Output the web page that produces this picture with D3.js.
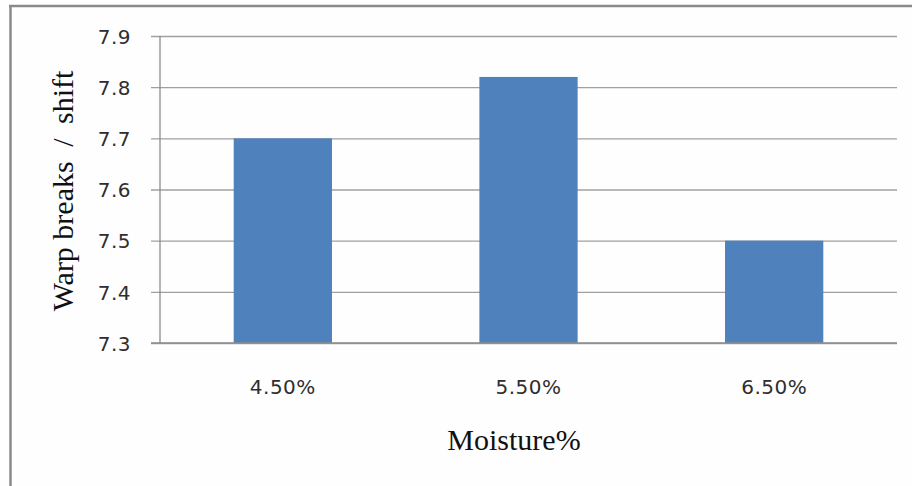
<!DOCTYPE html>
<html>
<head>
<meta charset="utf-8">
<script src="https://cdn.jsdelivr.net/npm/d3@7"></script>
<style>
  html, body { margin: 0; padding: 0; background: #fff; }
  svg { display: block; }
</style>
</head>
<body>
<script>
// Warp breaks per shift at three moisture levels
const categories = ["4.50%", "5.50%", "6.50%"];
const warpBreaks = [7.70, 7.82, 7.50];
const yTicks = [7.3, 7.4, 7.5, 7.6, 7.7, 7.8, 7.9];

const W = 912, H = 486;
const plot = { left: 160, right: 897, top: 36, bottom: 343 };

const svg = d3.select("body").append("svg")
  .attr("width", W).attr("height", H);

svg.append("rect").attr("width", W).attr("height", H).attr("fill", "#fefefe");

// Chart frame (top and left edges)
svg.append("line").attr("x1", 9).attr("x2", W).attr("y1", 6).attr("y2", 6)
  .attr("stroke", "#8a8a8a").attr("stroke-width", 2.5);
svg.append("line").attr("x1", 10.5).attr("x2", 10.5).attr("y1", 5).attr("y2", H)
  .attr("stroke", "#8a8a8a").attr("stroke-width", 2.5);

const x = d3.scaleBand()
  .domain(categories)
  .range([plot.left, plot.right])
  .paddingInner(0.6)
  .paddingOuter(0.3);

const y = d3.scaleLinear()
  .domain([7.3, 7.9])
  .range([plot.bottom, plot.top]);

// Horizontal gridlines with short ticks to the left of the axis
const yAxis = d3.axisLeft(y)
  .tickValues(yTicks)
  .tickSize(-(plot.right - plot.left))
  .tickSizeOuter(0)
  .tickFormat(d3.format(".1f"));

const gy = svg.append("g")
  .attr("transform", `translate(${plot.left},0)`)
  .call(yAxis);
gy.select(".domain").remove();
gy.selectAll(".tick line")
  .attr("x1", -9)
  .attr("stroke", "#a0a0a0")
  .attr("stroke-width", 1.3);
gy.selectAll(".tick text")
  .attr("x", -29)
  .attr("dy", "0.36em")
  .attr("fill", "#2e2e2e")
  .style("font-family", "'DejaVu Sans', sans-serif")
  .style("font-size", "20px")
  .style("letter-spacing", "0.5px");

// Bars
svg.append("g").selectAll("rect")
  .data(categories)
  .join("rect")
  .attr("x", d => x(d))
  .attr("width", x.bandwidth())
  .attr("y", (d, i) => y(warpBreaks[i]))
  .attr("height", (d, i) => plot.bottom - y(warpBreaks[i]))
  .attr("fill", "#4f81bd");

// Axis lines
svg.append("line")
  .attr("x1", plot.left).attr("x2", plot.left)
  .attr("y1", plot.top).attr("y2", plot.bottom)
  .attr("stroke", "#8c8c8c").attr("stroke-width", 1.3);
svg.append("line")
  .attr("x1", plot.left - 9).attr("x2", plot.right)
  .attr("y1", plot.bottom).attr("y2", plot.bottom)
  .attr("stroke", "#8c8c8c").attr("stroke-width", 1.3);

// Category labels
const xAxis = d3.axisBottom(x).tickSize(0).tickPadding(0);
const gx = svg.append("g")
  .attr("transform", `translate(0,${plot.bottom})`)
  .call(xAxis);
gx.select(".domain").remove();
gx.selectAll(".tick text")
  .attr("y", 51)
  .attr("dy", 0)
  .attr("fill", "#2e2e2e")
  .style("font-family", "'DejaVu Sans', sans-serif")
  .style("font-size", "20px")
  .style("letter-spacing", "0.5px");

// Axis titles
svg.append("text")
  .attr("x", 514).attr("y", 450)
  .attr("text-anchor", "middle")
  .attr("fill", "#111")
  .style("font-family", "'Liberation Serif', 'Times New Roman', serif")
  .style("font-size", "30px")
  .text("Moisture%");

const yTitle = svg.append("text")
  .attr("transform", "translate(73,191) rotate(-90)")
  .attr("text-anchor", "middle")
  .attr("fill", "#111")
  .style("font-family", "'Liberation Serif', 'Times New Roman', serif")
  .style("font-size", "30px");
yTitle.append("tspan").text("Warp breaks");
yTitle.append("tspan").style("word-spacing", "7px").text(" / shift");
</script>
</body>
</html>
